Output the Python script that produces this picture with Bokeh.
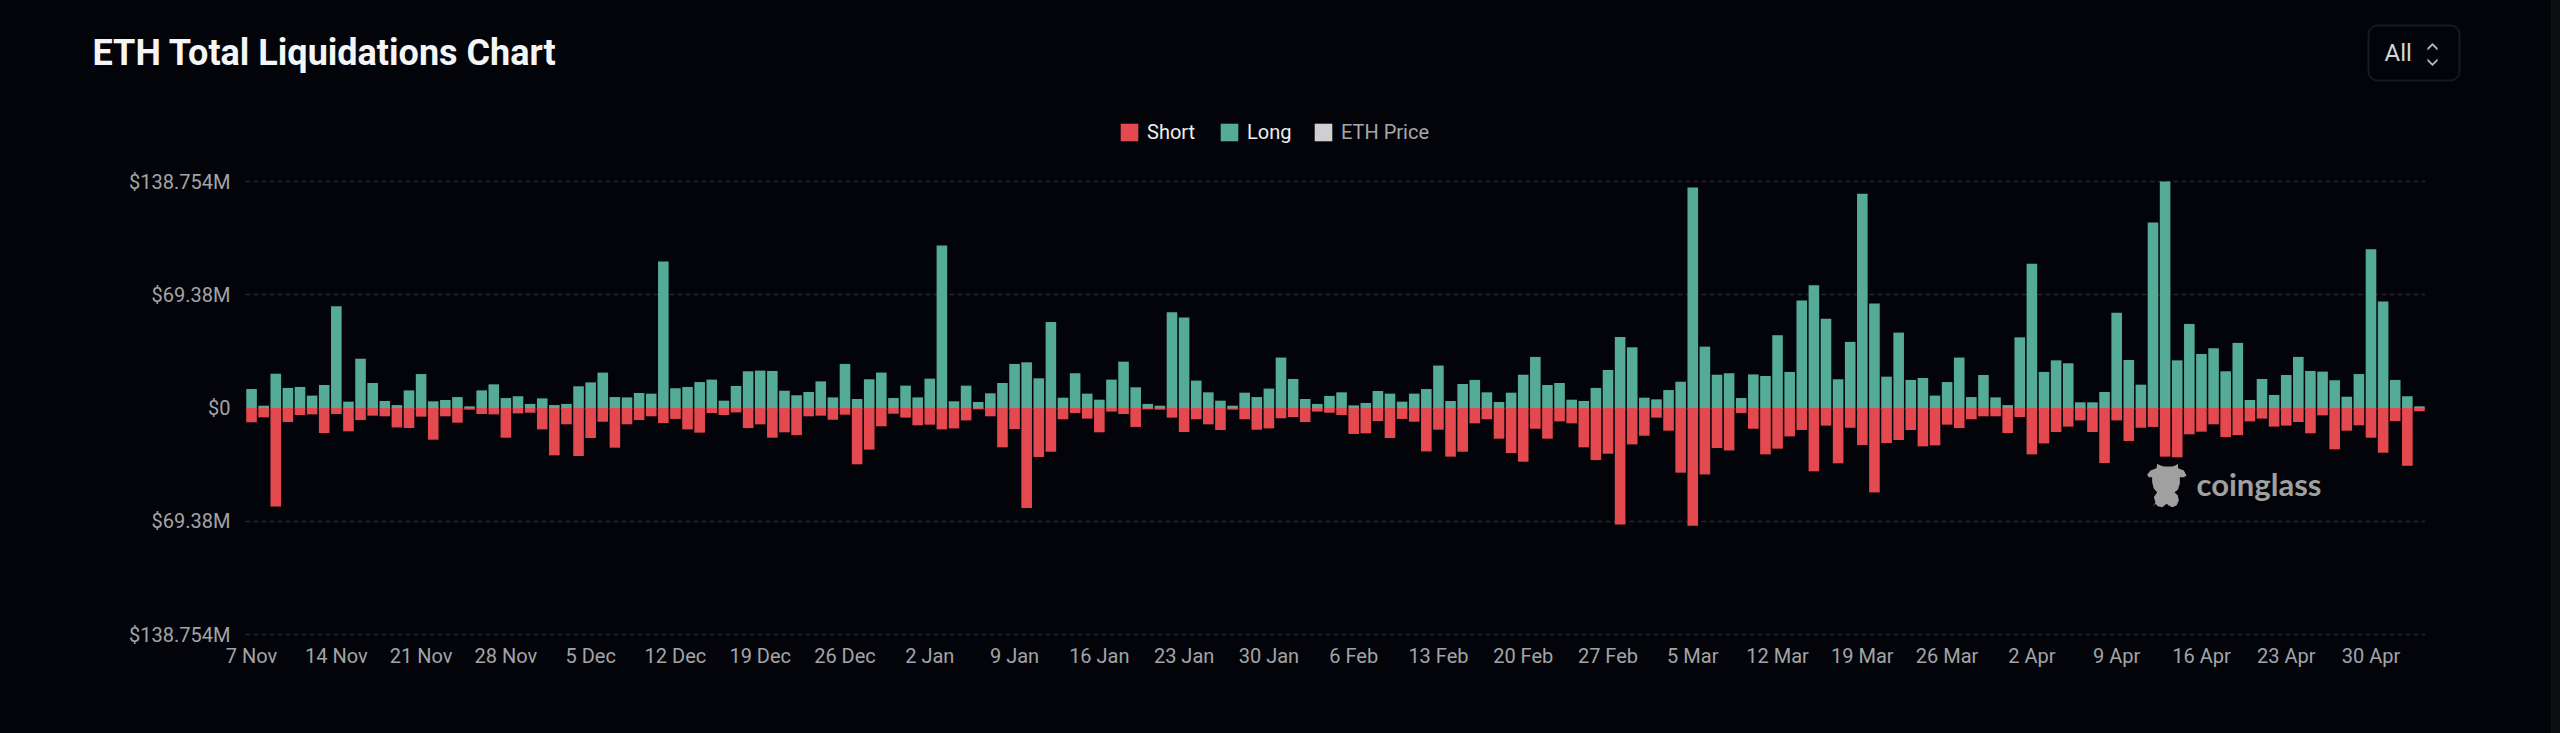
from bokeh.plotting import figure
from bokeh.models import (Range1d, FixedTicker, Legend, LegendItem, Label, BoxAnnotation,
                          PolyAnnotation, ColumnDataSource)
from bokeh.embed import file_html
from bokeh.resources import INLINE

# Daily liquidations in million USD, 7 Nov 2023 - 5 May 2024
long_m = [
 11.6,1.4,21.0,12.3,12.9,7.6,14.1,62.3,3.9,30.2,15.3,4.3,1.8,10.8,20.8,4.1,4.9,6.7,1.0,10.8,
 14.5,6.1,7.2,2.5,5.9,1.8,2.5,13.3,15.7,21.7,6.7,6.5,9.2,8.8,89.7,12.1,12.9,15.9,17.4,4.5,
 13.5,22.5,22.9,22.7,10.6,7.8,9.8,16.3,6.5,27.0,5.5,17.6,21.7,6.1,13.7,6.5,18.0,99.5,4.1,13.7,
 3.7,9.0,15.3,27.0,28.0,18.2,52.7,6.3,21.3,8.8,5.1,17.4,28.4,12.7,2.5,1.4,58.7,55.4,16.8,9.6,
 4.5,1.4,9.4,6.7,11.9,30.9,17.8,5.5,2.5,7.4,9.6,1.6,3.1,10.4,8.8,3.9,8.8,11.6,26.0,4.3,
 14.7,17.2,9.6,3.7,9.4,20.4,31.3,14.1,15.3,5.1,4.3,12.3,23.3,43.5,37.2,6.3,5.3,11.0,16.1,135.1,
 37.6,20.4,21.3,6.1,20.6,19.6,44.6,22.1,65.8,75.2,54.6,17.6,40.5,131.2,64.0,19.2,46.2,17.2,18.4,7.6,
 15.9,30.9,6.7,20.2,6.5,1.8,43.3,88.3,22.1,29.2,27.4,3.5,3.5,9.8,58.4,29.4,14.3,113.6,138.754,29.2,
 51.5,33.1,36.6,22.5,39.9,4.9,17.8,8.0,20.2,31.3,22.7,22.3,17.0,6.9,20.8,97.3,65.2,17.2,7.2,1.0,
]
short_m = [
 8.8,5.7,60.3,8.6,4.3,3.9,15.3,3.7,14.3,7.4,4.7,5.1,11.9,12.3,5.3,19.4,5.1,9.0,1.0,3.7,
 3.9,18.2,3.3,2.9,13.1,29.0,10.0,29.4,18.4,8.4,24.3,10.0,7.4,5.1,9.2,6.7,13.1,15.1,3.1,4.3,
 2.7,12.3,10.0,18.2,14.9,16.6,5.1,4.7,7.2,4.1,34.5,25.5,11.2,3.5,5.9,10.6,10.2,13.1,12.5,7.6,
 0.8,5.1,24.1,12.9,61.3,30.0,26.8,6.9,3.1,6.5,14.9,2.2,3.7,11.6,0.8,1.0,5.9,14.7,6.9,10.0,
 13.5,1.0,6.9,13.3,12.5,6.3,5.5,8.6,2.2,2.9,4.3,15.9,15.5,8.0,18.4,6.7,8.4,26.6,13.3,29.8,
 26.8,9.4,6.9,18.8,27.6,32.9,12.7,18.8,8.2,9.4,24.1,31.9,28.0,71.3,22.3,17.0,5.9,13.9,39.6,72.1,
 40.7,24.5,26.0,3.1,12.7,28.4,24.9,17.4,13.5,38.8,10.8,33.9,12.1,22.7,51.7,21.5,19.6,13.5,23.5,22.9,
 10.2,12.3,6.9,5.1,5.1,15.3,5.5,28.4,21.7,14.7,11.4,7.6,14.7,33.7,7.6,20.2,12.1,11.6,29.8,30.2,
 16.1,14.5,10.0,17.8,16.6,8.2,6.5,11.4,10.8,8.6,15.5,4.5,25.3,13.9,10.6,18.2,27.4,8.0,35.4,2.0,
]
x_tick_labels = ["7 Nov","14 Nov","21 Nov","28 Nov","5 Dec","12 Dec","19 Dec","26 Dec","2 Jan","9 Jan",
                 "16 Jan","23 Jan","30 Jan","6 Feb","13 Feb","20 Feb","27 Feb","5 Mar","12 Mar","19 Mar",
                 "26 Mar","2 Apr","9 Apr","16 Apr","23 Apr","30 Apr"]
y_ticks = [-138.754, -69.38, 0, 69.38, 138.754]
y_tick_labels = ["$138.754M", "$69.38M", "$0", "$69.38M", "$138.754M"]

BG = "#03040a"
GREEN = "#54ab97"
RED = "#e4494f"
GREY = "#cfcfcf"
TICK = "#a3a4a6"

# layout in page pixels; the plot frame fills the page so that title, legend and
# selector (which Bokeh clips to the frame) can be drawn above the bars
W, H = 2551, 733
L, R, T, B = 245.0, 2425.0, 181.0, 634.0

days = list(range(len(long_m)))
n = len(days)
y_max = max(y_ticks)
x_per_px = n / (R - L)
y_per_px = 2 * y_max / (B - T)
x_lo, x_hi = -0.5, n - 0.5
y_lo, y_hi = -y_max, y_max

src = ColumnDataSource(dict(day=days, long=long_m, short=[-v for v in short_m]))

p = figure(width=W, height=H, output_backend="svg", toolbar_location=None,
           x_range=Range1d(x_lo - L * x_per_px, x_hi + (W - R) * x_per_px),
           y_range=Range1d(y_lo - (H - B) * y_per_px, y_hi + T * y_per_px),
           min_border=0, background_fill_color=BG, border_fill_color=BG,
           outline_line_color=None)

bar_w = 0.875
r_short = p.vbar(x="day", top=0, bottom="short", width=bar_w, fill_color=RED, line_color=None, source=src)
r_long = p.vbar(x="day", top="long", bottom=0, width=bar_w, fill_color=GREEN, line_color=None, source=src)
# ETH Price is switched off in the legend: no values are shown
r_price = p.vbar(x=[float("nan")], top=[float("nan")], width=bar_w, fill_color=GREY, line_color=None)

p.xgrid.visible = False
p.ygrid.ticker = FixedTicker(ticks=y_ticks)
p.ygrid.cross_bounds = (x_lo, x_hi)
p.ygrid.grid_line_color = "#25272c"
p.ygrid.grid_line_dash = "5 3"
p.ygrid.grid_line_width = 1.5

p.yaxis.fixed_location = x_lo
p.xaxis.fixed_location = y_lo
p.yaxis.ticker = FixedTicker(ticks=y_ticks)
p.yaxis.major_label_overrides = dict(zip(y_ticks, y_tick_labels))
x_ticks = days[::7]
p.xaxis.ticker = FixedTicker(ticks=x_ticks)
p.xaxis.major_label_overrides = dict(zip(x_ticks, x_tick_labels))
for ax, standoff in ((p.xaxis, 3), (p.yaxis, 9)):
    ax.axis_line_color = None
    ax.major_tick_line_color = None
    ax.minor_tick_line_color = None
    ax.major_label_text_color = TICK
    ax.major_label_text_font = "Roboto"
    ax.major_label_text_font_size = "20px"
    ax.major_label_standoff = standoff

# title
p.add_layout(Label(x=92, y=52, x_units="canvas", y_units="canvas",
                   text="ETH Total Liquidations Chart", text_color="#f4f5f7",
                   text_font="Roboto", text_font_style="bold", text_font_size="36px",
                   text_baseline="middle"))

# legend
def legend(label, renderer, x, color):
    p.add_layout(Legend(items=[LegendItem(label=label, renderers=[renderer])],
                        location=(x - 2, H - 144), orientation="horizontal",
                        padding=0, margin=0, spacing=0, border_line_color=None,
                        background_fill_alpha=0, glyph_width=22, glyph_height=22,
                        label_height=22, label_standoff=7, label_text_color=color,
                        label_text_font="Roboto", label_text_font_size="20px"))

legend("Short", r_short, 1120, "#eeeeee")
legend("Long", r_long, 1220, "#eeeeee")
legend("ETH Price", r_price, 1314, "#a8a8a8")

# range selector
p.add_layout(BoxAnnotation(left=2368, right=2459, top=25, bottom=80,
                           left_units="canvas", right_units="canvas",
                           top_units="canvas", bottom_units="canvas",
                           fill_alpha=0, line_color="#48494e", line_width=2,
                           border_radius=9))
p.add_layout(Label(x=2384, y=52, x_units="canvas", y_units="canvas", text="All",
                   text_color="#d6d6d6", text_font="Roboto", text_font_size="24px",
                   text_baseline="middle"))
for xs, ys in (
    ([2427, 2432, 2437, 2437, 2432, 2427], [47.5, 42.5, 47.5, 50, 45, 50]),
    ([2427, 2432, 2437, 2437, 2432, 2427], [58, 63, 58, 60.5, 65.5, 60.5]),
):
    p.add_layout(PolyAnnotation(xs=xs, ys=ys, xs_units="canvas", ys_units="canvas",
                                fill_color="#bdbdbd", fill_alpha=1, line_color=None))

# watermark
logo_x = [140,150,168,170,180,190,215,225,232,233,250,258,250,238,238,232,222,232,235,228,215,205,198,
          192,185,172,165,158,165,160,170,160,155,155,145]
logo_y = [103,90,83,70,75,78,78,75,70,83,90,105,110,110,130,148,155,165,180,195,200,195,190,
          195,200,197,190,197,185,170,155,145,125,110,110]
p.add_layout(PolyAnnotation(xs=[2100 + v / 3 for v in logo_x], ys=[440 + v / 3 for v in logo_y],
                            xs_units="canvas", ys_units="canvas",
                            fill_color="#a0a0a0", fill_alpha=1, line_color=None))
p.add_layout(Label(x=2196, y=483, x_units="canvas", y_units="canvas", text="coinglass",
                   text_color="#a0a0a0", text_font="Lato", text_font_style="bold",
                   text_font_size="31px", text_baseline="alphabetic"))

html = file_html(p, INLINE)
css = "<style>html,body{background:linear-gradient(to right,#03040a 2551px,#0e0f13 2551px);}</style>"
html = html.replace("</head>", css + "</head>", 1)
open("out.html", "w").write(html)
